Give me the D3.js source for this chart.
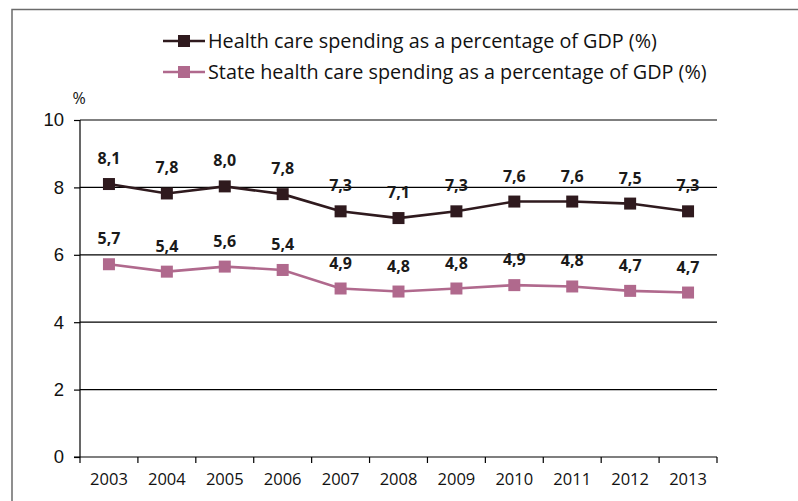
<!DOCTYPE html>
<meta charset="utf-8">
<style>
body { margin: 0; background: #fff; }
svg { font-family: "Open Sans", "Noto Sans", sans-serif; }
.grid line { stroke: #000; stroke-width: 1.2px; }
.axis path, .axis line { stroke: #000; stroke-width: 1.2px; }
.axis text { font-size: 16.5px; fill: #111; }
.vlabel { font-size: 16px; font-weight: bold; fill: #1a1a1a; }
.legend text { font-size: 19.8px; fill: #111; }
</style>

<svg width="798" height="501"></svg>
<script src="https://cdn.jsdelivr.net/npm/d3@7"></script>

<script>

var years = ["2003","2004","2005","2006","2007","2008","2009","2010","2011","2012","2013"];

// values as plotted
var totalSpending = [8.1, 7.82, 8.03, 7.8, 7.29, 7.09, 7.29, 7.58, 7.58, 7.52, 7.29];
var stateSpending = [5.72, 5.5, 5.65, 5.55, 5.0, 4.91, 5.0, 5.1, 5.06, 4.93, 4.88];

// printed data labels
var totalLabels = ["8,1","7,8","8,0","7,8","7,3","7,1","7,3","7,6","7,6","7,5","7,3"];
var stateLabels = ["5,7","5,4","5,6","5,4","4,9","4,8","4,8","4,9","4,8","4,7","4,7"];

var seriesNames = [
    "Health care spending as a percentage of GDP (%)",
    "State health care spending as a percentage of GDP (%)"
];
var yTicks = [0, 2, 4, 6, 8, 10];

var svg = d3.select("svg");
var plotLeft = 80, plotRight = 717, plotTop = 120, plotBottom = 457;

// frame
svg.append("path")
    .attr("d", "M12,501 V9.5 H798")
    .attr("fill", "none")
    .attr("stroke", "#6b6b6b")
    .attr("stroke-width", 1.5);

var x = d3.scaleBand()
    .domain(years)
    .range([plotLeft, plotRight]);

var y = d3.scaleLinear()
    .domain([0, 10])
    .range([plotBottom, plotTop]);

// gridlines
svg.append("g")
    .attr("class", "grid")
    .selectAll("line")
    .data(yTicks.filter(function(d) { return d > 0; }))
    .enter().append("line")
        .attr("x1", plotLeft)
        .attr("x2", plotRight)
        .attr("y1", function(d) { return y(d); })
        .attr("y2", function(d) { return y(d); });

// y axis
var yAxis = svg.append("g")
    .attr("class", "axis")
    .attr("transform", "translate(" + plotLeft + ",0)")
    .call(d3.axisLeft(y).tickValues(yTicks).tickSize(6).tickPadding(10).tickFormat(d3.format("d")));
yAxis.select(".domain").attr("d", "M0," + plotBottom + "V" + plotTop);
yAxis.selectAll("text").style("font-size", "18.5px");

svg.append("text")
    .attr("x", plotLeft - 1)
    .attr("y", 104)
    .attr("text-anchor", "middle")
    .style("font-size", "16px")
    .attr("fill", "#111")
    .text("%");

// x axis with ticks at band edges
var xAxis = svg.append("g")
    .attr("class", "axis")
    .attr("transform", "translate(0," + plotBottom + ")");
xAxis.append("line")
    .attr("x1", plotLeft - 6).attr("x2", plotRight);
var edges = years.map(function(d) { return x(d); }).concat([plotRight]);
xAxis.selectAll(".edge")
    .data(edges)
    .enter().append("line")
        .attr("class", "edge")
        .attr("x1", function(d) { return d; })
        .attr("x2", function(d) { return d; })
        .attr("y1", 0)
        .attr("y2", 6);
xAxis.selectAll(".yr")
    .data(years)
    .enter().append("text")
        .attr("class", "yr")
        .attr("x", function(d) { return x(d) + x.bandwidth() / 2; })
        .attr("y", 28)
        .attr("text-anchor", "middle")
        .text(function(d) { return d; });

var series = [
    {name: seriesNames[0], values: totalSpending, labels: totalLabels, color: "#2f1a1e"},
    {name: seriesNames[1], values: stateSpending, labels: stateLabels, color: "#b0698d"}
];

var line = d3.line()
    .x(function(d, i) { return x(years[i]) + x.bandwidth() / 2; })
    .y(function(d) { return y(d); });

series.forEach(function(s) {
    var g = svg.append("g");
    g.append("path")
        .attr("d", line(s.values))
        .attr("fill", "none")
        .attr("stroke", s.color)
        .attr("stroke-width", 2.6);
    g.selectAll("rect")
        .data(s.values)
        .enter().append("rect")
            .attr("x", function(d, i) { return x(years[i]) + x.bandwidth() / 2 - 6; })
            .attr("y", function(d) { return y(d) - 6; })
            .attr("width", 12)
            .attr("height", 12)
            .attr("fill", s.color);
    g.selectAll("text")
        .data(s.values)
        .enter().append("text")
            .attr("class", "vlabel")
            .attr("x", function(d, i) { return x(years[i]) + x.bandwidth() / 2; })
            .attr("y", function(d) { return y(d) - 20; })
            .attr("text-anchor", "middle")
            .text(function(d, i) { return s.labels[i]; });
});

// legend
var legend = svg.append("g").attr("class", "legend");
series.forEach(function(s, i) {
    var ly = 41 + i * 31;
    legend.append("line")
        .attr("x1", 163).attr("x2", 205)
        .attr("y1", ly).attr("y2", ly)
        .attr("stroke", s.color)
        .attr("stroke-width", 2.6);
    legend.append("rect")
        .attr("x", 178).attr("y", ly - 6)
        .attr("width", 12).attr("height", 12)
        .attr("fill", s.color);
    legend.append("text")
        .attr("x", 208)
        .attr("y", ly + 7)
        .text(s.name);
});

</script>
